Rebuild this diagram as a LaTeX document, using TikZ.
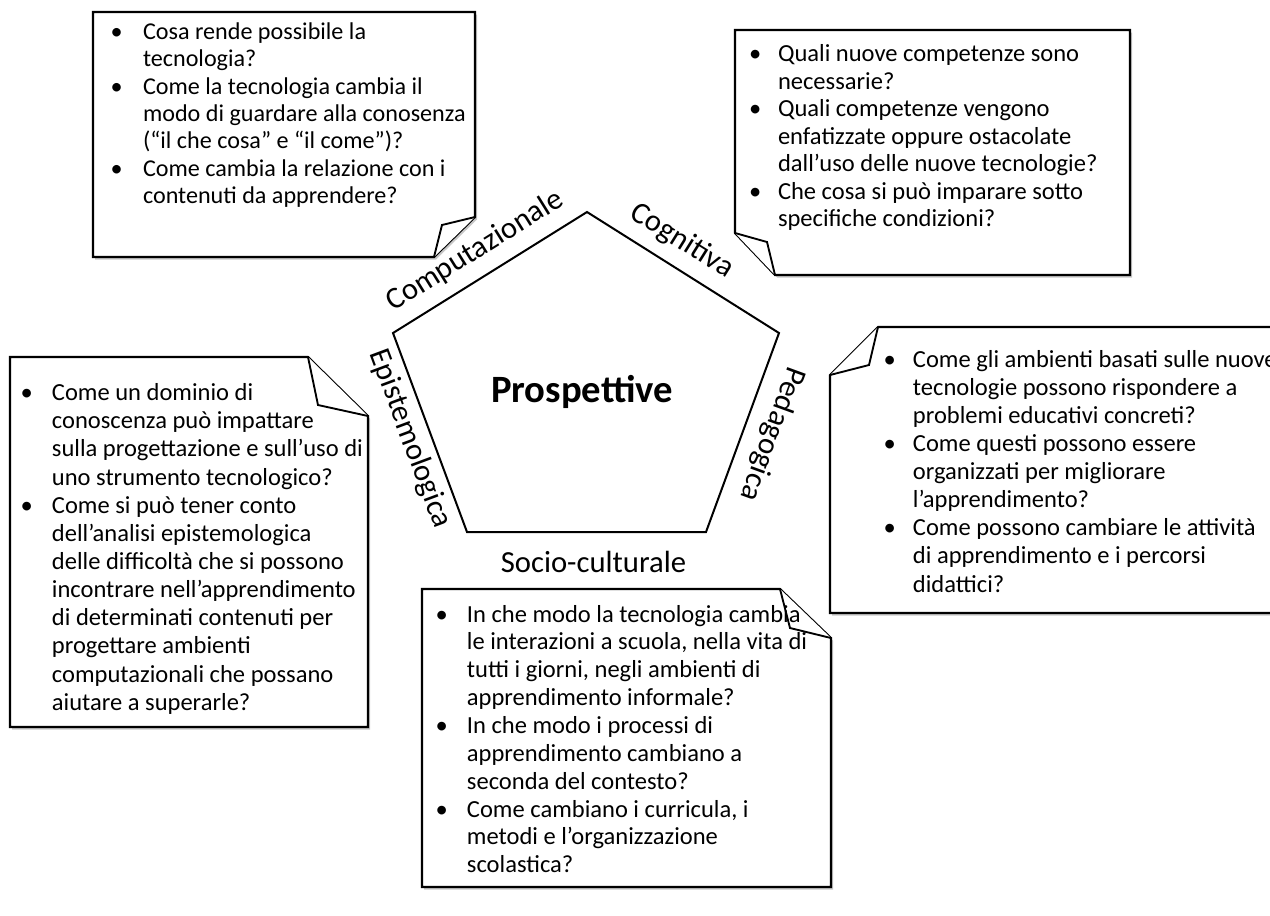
\documentclass[tikz,border=0pt]{standalone}
\usepackage{fontspec}
\setmainfont{Carlito}
\begin{document}
\begin{tikzpicture}[x=0.75pt,y=-0.75pt,
  boxline/.style={draw=black,line width=1.6pt,fill=white,line join=miter},
  shadowfill/.style={fill=black!22},
  foldline/.style={draw=black,line width=1.4pt,fill=white,line join=miter},
  qtext/.style={anchor=north west,inner sep=0pt,outer sep=0pt},
  lbl/.style={font=\fontsize{23}{27}\selectfont,inner sep=0pt},
  pent/.style={draw=black,line width=1.5pt,fill=white}]
\useasboundingbox (0,0) rectangle (1270,915);
\clip (0,0) rectangle (1270,915);

% ---------- Box 1 (top left) ----------
\fill[shadowfill,shift={(2,2.5)}] (93,12) -- (475,12) -- (475,217) -- (434,257) -- (93,257) -- cycle;
\path[boxline] (93,12) -- (475,12) -- (475,217) -- (434,257) -- (93,257) -- cycle;
\path[foldline] (475,217) -- (442,225) -- (434,257);
\node[qtext,font=\fontsize{18.1}{20.55}\selectfont] (t1) at (110.5,20.1) {\begin{tabular}{@{}p{24.4pt}@{}l@{}}
\textbullet & Cosa rende possibile la\\
 & tecnologia?\\
\textbullet & Come la tecnologia cambia il\\
 & modo di guardare alla conosenza\\
 & (“il che cosa” e “il come”)?\\
\textbullet & Come cambia la relazione con i\\
 & contenuti da apprendere?
\end{tabular}};

% ---------- Box 2 (top right) ----------
\fill[shadowfill,shift={(2,2.5)}] (735,30) -- (1130,30) -- (1130,275) -- (775,275) -- (735,233) -- cycle;
\path[boxline] (735,30) -- (1130,30) -- (1130,275) -- (775,275) -- (735,233) -- cycle;
\path[foldline] (735,233) -- (767,242) -- (775,275);
\node[qtext,font=\fontsize{18.4}{20.6}\selectfont] (t2) at (749,42.5) {\begin{tabular}{@{}p{21.75pt}@{}l@{}}
\textbullet & Quali nuove competenze sono\\
 & necessarie?\\
\textbullet & Quali competenze vengono\\
 & enfatizzate oppure ostacolate\\
 & dall’uso delle nuove tecnologie?\\
\textbullet & Che cosa si può imparare sotto\\
 & specifiche condizioni?
\end{tabular}};

% ---------- Box 3 (left) ----------
\fill[shadowfill,shift={(2,2.5)}] (10,357) -- (308,357) -- (368,416) -- (368,727) -- (10,727) -- cycle;
\path[boxline] (10,357) -- (308,357) -- (368,416) -- (368,727) -- (10,727) -- cycle;
\path[foldline] (308,357) -- (318,405) -- (368,416);
\node[qtext,font=\fontsize{18.4}{21.1}\selectfont] (t3) at (20.5,381) {\begin{tabular}{@{}p{23.6pt}@{}l@{}}
\textbullet & Come un dominio di\\
 & conoscenza può impattare\\
 & sulla progettazione e sull’uso di\\
 & uno strumento tecnologico?\\
\textbullet & Come si può tener conto\\
 & dell’analisi epistemologica\\
 & delle difficoltà che si possono\\
 & incontrare nell’apprendimento\\
 & di determinati contenuti per\\
 & progettare ambienti\\
 & computazionali che possano\\
 & aiutare a superarle?
\end{tabular}};

% ---------- Box 4 (right) ----------
\fill[shadowfill,shift={(2,2.5)}] (878,327) -- (1290,327) -- (1290,613) -- (830,613) -- (830,375) -- cycle;
\path[boxline] (878,327) -- (1290,327) -- (1290,613) -- (830,613) -- (830,375) -- cycle;
\path[foldline] (878,327) -- (869,365) -- (830,375);
\node[qtext,font=\fontsize{18.4}{21.1}\selectfont] (t4) at (883.5,347.3) {\begin{tabular}{@{}p{22.1pt}@{}l@{}}
\textbullet & Come gli ambienti basati sulle nuove\\
 & tecnologie possono rispondere a\\
 & problemi educativi concreti?\\
\textbullet & Come questi possono essere\\
 & organizzati per migliorare\\
 & l’apprendimento?\\
\textbullet & Come possono cambiare le attività\\
 & di apprendimento e i percorsi\\
 & didattici?
\end{tabular}};

% ---------- Box 5 (bottom) ----------
\fill[shadowfill,shift={(2,2.5)}] (422,589) -- (780,589) -- (831,638) -- (831,887) -- (422,887) -- cycle;
\path[boxline] (422,589) -- (780,589) -- (831,638) -- (831,887) -- (422,887) -- cycle;
\path[foldline] (780,589) -- (790,628) -- (831,638);
\node[qtext,font=\fontsize{18.4}{20.9}\selectfont] (t5) at (435.5,602.5) {\begin{tabular}{@{}p{23.6pt}@{}l@{}}
\textbullet & In che modo la tecnologia cambia\\
 & le interazioni a scuola, nella vita di\\
 & tutti i giorni, negli ambienti di\\
 & apprendimento informale?\\
\textbullet & In che modo i processi di\\
 & apprendimento cambiano a\\
 & seconda del contesto?\\
\textbullet & Come cambiano i curricula, i\\
 & metodi e l’organizzazione\\
 & scolastica?
\end{tabular}};

% ---------- Pentagon ----------
\coordinate (pT) at (587,212);
\coordinate (pUL) at (393,333);
\coordinate (pUR) at (779,333);
\coordinate (pLL) at (467,532);
\coordinate (pLR) at (706,532);
\path[pent] (pT) -- (pUR) -- (pLR) -- (pLL) -- (pUL) -- cycle;
\node[font=\fontsize{29}{33}\selectfont\bfseries,inner sep=0pt] (center) at (582,392) {Prospettive};

% ---------- Edge labels ----------
\node[lbl,rotate=32] (lcomp) at (475,251) {Computazionale};
\node[lbl,rotate=-32] (lcog) at (682,241) {Cognitiva};
\node[lbl,rotate=-110] (lped) at (772,434) {Pedagogica};
\node[lbl,rotate=-69.6] (lepi) at (410,439) {Epistemologica};
\node[lbl] (lsoc) at (593.5,562) {Socio-culturale};
\end{tikzpicture}
\end{document}
